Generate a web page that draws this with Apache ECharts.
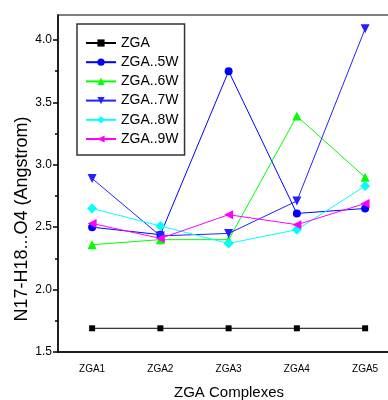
<!DOCTYPE html>
<html>
<head>
<meta charset="utf-8">
<script src="https://cdn.jsdelivr.net/npm/echarts@6/dist/echarts.min.js"></script>
<style>html,body{margin:0;padding:0;background:#fff;}#c{width:388px;height:400px;}</style>
</head>
<body>
<div id="c"></div>
<script>
var categories = ['ZGA1', 'ZGA2', 'ZGA3', 'ZGA4', 'ZGA5'];
var seriesNames = ['ZGA', 'ZGA..5W', 'ZGA..6W', 'ZGA..7W', 'ZGA..8W', 'ZGA..9W'];
var zga   = [1.69, 1.69, 1.69, 1.69, 1.69];
var zga5w = [2.50, 2.44, 3.75, 2.61, 2.65];
var zga6w = [2.36, 2.40, 2.40, 3.39, 2.90];
var zga7w = [2.89, 2.43, 2.45, 2.71, 4.09];
var zga8w = [2.65, 2.51, 2.37, 2.48, 2.83];
var zga9w = [2.53, 2.41, 2.60, 2.52, 2.69];
var yMajorTicks = [1.5, 2.0, 2.5, 3.0, 3.5, 4.0];
var yMinorTicks = [1.75, 2.25, 2.75, 3.25, 3.75];

var chart = echarts.init(document.getElementById('c'), null, {renderer: 'canvas'});
var font = 'Arial, "Liberation Sans", sans-serif';
function mk(name, data, color, symbol, size, rotate) {
  return {
    name: name, type: 'line', data: data, xAxisIndex: 0, yAxisIndex: 0,
    symbol: symbol, symbolSize: size, symbolRotate: rotate || 0,
    showAllSymbol: true,
    lineStyle: {color: color, width: 1},
    itemStyle: {color: color},
    emphasis: {disabled: true},
    animation: false
  };
}
var option = {
  animation: false,
  grid: {left: 58, top: 15, right: -11.25, bottom: 48, outerBoundsMode: 'none', containLabel: false,
    show: true, borderColor: '#555', borderWidth: 1.5, backgroundColor: 'transparent'},
  legend: {
    left: 77, top: 24, orient: 'vertical',
    itemWidth: 30, itemHeight: 9, itemGap: 5.2,
    padding: [12, 6, 9, 8],
    borderColor: '#333', borderWidth: 1.5,
    textStyle: {fontFamily: font, fontSize: 14, color: '#000'},
    data: seriesNames
  },
  xAxis: [{
    type: 'category', data: categories, position: 'bottom', boundaryGap: true,
    axisLine: {lineStyle: {color: '#000', width: 1.5}},
    axisTick: {alignWithLabel: true, length: 6, lineStyle: {color: '#000', width: 1.5}},
    axisLabel: {fontFamily: font, fontSize: 10, color: '#000', margin: 12},
    splitLine: {show: false}
  }, {
    type: 'category', data: categories, position: 'bottom', boundaryGap: true,
    axisLine: {show: false},
    axisTick: {length: 3, lineStyle: {color: '#000', width: 1.5}},
    axisLabel: {show: false},
    splitLine: {show: false}
  }],
  yAxis: [{
    type: 'value', min: 1.5, max: 4.2, interval: 0.5,
    axisLine: {show: true, lineStyle: {color: '#000', width: 1.5}},
    axisTick: {show: true, length: 5, customValues: yMajorTicks, lineStyle: {color: '#000', width: 1.5}},
    axisLabel: {fontFamily: font, fontSize: 12, color: '#000', margin: 6, customValues: yMajorTicks,
      formatter: function (v) { return v.toFixed(1); }},
    splitLine: {show: false}
  }, {
    type: 'value', min: 1.5, max: 4.2, position: 'left',
    axisLine: {show: false},
    axisTick: {show: true, length: 3, customValues: yMinorTicks, lineStyle: {color: '#000', width: 1.5}},
    axisLabel: {show: false, customValues: yMinorTicks},
    splitLine: {show: false}
  }],
  graphic: [{
    type: 'text', x: 22, y: 219, rotation: Math.PI / 2,
    style: {text: 'N17-H18...O4 (Angstrom)', font: '18px ' + font, fill: '#000', textAlign: 'center', textVerticalAlign: 'middle'}
  }, {
    type: 'text', x: 229, y: 393,
    style: {text: 'ZGA Complexes', font: '15px ' + font, fill: '#000', textAlign: 'center', textVerticalAlign: 'middle'}
  }],
  series: [
    mk(seriesNames[0], zga, '#000000', 'rect', 6),
    mk(seriesNames[1], zga5w, '#0000FF', 'circle', 8),
    mk(seriesNames[2], zga6w, '#00FF00', 'triangle', 9),
    mk(seriesNames[3], zga7w, '#2222FF', 'triangle', 9, 180),
    mk(seriesNames[4], zga8w, '#00FFFF', 'diamond', 10),
    mk(seriesNames[5], zga9w, '#FF00FF', 'triangle', 9, 90)
  ]
};
chart.setOption(option);
</script>
</body>
</html>
